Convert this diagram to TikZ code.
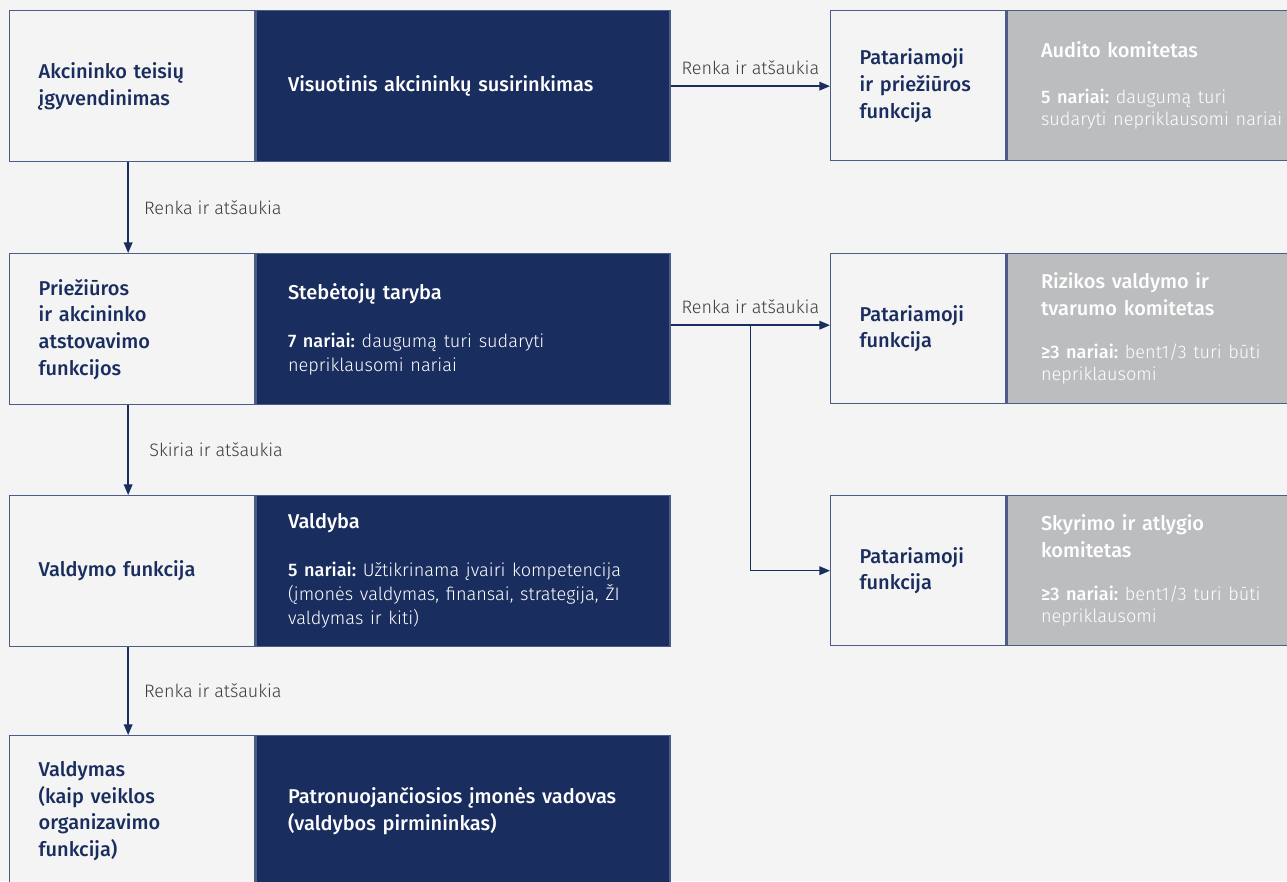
\documentclass[tikz,border=0pt]{standalone}
\usepackage{fontspec}
\setmainfont{Fira Sans}
\newfontfamily\medfont{Fira Sans Medium}
\newfontfamily\litefont{Fira Sans Light}
\usetikzlibrary{positioning,arrows.meta,calc}
\frenchspacing

\definecolor{pagebg}{HTML}{F3F4F3}
\definecolor{navy}{HTML}{1A2D5F}
\definecolor{edgeblue}{HTML}{4D5C86}
\definecolor{commgrey}{HTML}{BCBDBF}
\definecolor{labelgrey}{HTML}{3C3C3C}

\newcommand{\headsz}{\fontsize{15}{20}\selectfont}
\newcommand{\bodyf}{\litefont\fontsize{13.6}{17.5}\selectfont}
\newcommand{\textmed}[1]{{\medfont #1}}

\tikzset{
  funcbox/.style={draw=edgeblue, line width=1pt, fill=pagebg, text=navy,
    anchor=north west, minimum width=183.75pt, minimum height=113.25pt,
    inner xsep=21.75pt, inner ysep=0pt, text width=140.25pt, align=left,
    font=\medfont\headsz},
  organbox/.style={draw=edgeblue, line width=1pt, fill=navy, text=white,
    minimum width=310.5pt, minimum height=113.25pt,
    inner xsep=24pt, inner ysep=0pt, text width=262.5pt, align=left,
    font=\medfont\headsz},
  advbox/.style={draw=edgeblue, line width=1pt, fill=pagebg, text=navy,
    anchor=north west, minimum width=131.25pt, minimum height=112.5pt,
    inner xsep=21.75pt, inner ysep=0pt, text width=87.75pt, align=left,
    font=\medfont\headsz},
  commbox/.style={draw=edgeblue, line width=1pt, fill=commgrey, text=white,
    minimum width=213.75pt, minimum height=112.5pt,
    inner xsep=25.5pt, inner ysep=0pt, text width=195pt, align=left,
    font=\medfont\headsz},
  conn/.style={draw=navy, line width=1.1pt, -{Triangle[length=8pt,width=6.5pt]}},
  edgelabel/.style={text=labelgrey, font=\litefont\fontsize{13.5}{16}\selectfont}
}

\begin{document}
\begin{tikzpicture}[x=0.75pt,y=-0.75pt]
  \useasboundingbox (0,0) rectangle (1287,881);
  \fill[pagebg] (0,0) rectangle (1287,881);

  % left column: functions and bodies
  \node[funcbox] (akc) at (9,10) {Akcininko teisių\\ įgyvendinimas};
  \node[organbox, right=0pt of akc] (vis) {Visuotinis akcininkų susirinkimas};

  \node[funcbox] (prz) at (9,253) {Priežiūros\\ ir akcininko\\ atstovavimo\\ funkcijos};
  \node[organbox, right=0pt of prz] (steb) {Stebėtojų taryba\\[16pt]
    {\bodyf\textmed{7 nariai:} daugumą turi sudaryti}\\[-2pt]
    {\bodyf nepriklausomi nariai}};

  \node[funcbox] (vfn) at (9,495) {Valdymo funkcija};
  \node[organbox, right=0pt of vfn] (vald) {Valdyba\\[16pt]
    {\bodyf\textmed{5 nariai:} Užtikrinama įvairi kompetencija}\\[-2pt]
    {\bodyf (įmonės valdymas, finansai, strategija, ŽI}\\[-2pt]
    {\bodyf valdymas ir kiti)}};

  \node[funcbox] (org) at (9,735) {Valdymas\\ (kaip veiklos\\ organizavimo\\ funkcija)};
  \node[organbox, right=0pt of org] (vad) {Patronuojančiosios įmonės vadovas\\ (valdybos pirmininkas)};

  % right column: committees
  \node[advbox] (audf) at (830,10) {Patariamoji\\ ir priežiūros\\ funkcija};
  \node[commbox, right=0pt of audf] (aud) {Audito komitetas\\[14pt]
    {\bodyf\textmed{5 nariai:} daugumą turi}\\[-3pt]
    {\bodyf sudaryti nepriklausomi nariai}};

  \node[advbox] (rizf) at (830,253) {Patariamoji\\ funkcija};
  \node[commbox, right=0pt of rizf] (riz) {Rizikos valdymo ir\\ tvarumo komitetas\\[12pt]
    {\bodyf\textmed{≥3 nariai:} bent1/3 turi būti}\\[-3pt]
    {\bodyf nepriklausomi}};

  \node[advbox] (skyf) at (830,495) {Patariamoji\\ funkcija};
  \node[commbox, right=0pt of skyf] (sky) {Skyrimo ir atlygio\\ komitetas\\[12pt]
    {\bodyf\textmed{≥3 nariai:} bent1/3 turi būti}\\[-3pt]
    {\bodyf nepriklausomi}};

  % connectors
  \draw[conn] ([xshift=-3pt]akc.south) -- node[edgelabel, midway, right=8pt] {Renka ir atšaukia} ([xshift=-3pt]prz.north);
  \draw[conn] ([xshift=-3pt]prz.south) -- node[edgelabel, midway, right=12pt] {Skiria ir atšaukia} ([xshift=-3pt]vfn.north);
  \draw[conn] ([xshift=-3pt]vfn.south) -- node[edgelabel, midway, right=8pt] {Renka ir atšaukia} ([xshift=-3pt]org.north);

  \draw[conn] (vis.east) -- node[edgelabel, midway, above=5pt] {Renka ir atšaukia} (vis.east -| audf.west);
  \draw[conn] ([yshift=3pt]steb.east) -- node[edgelabel, midway, above=5pt] {Renka ir atšaukia} ([yshift=3pt]steb.east -| rizf.west);
  \coordinate (fork) at ($([yshift=3pt]steb.east)!0.5!([yshift=3pt]steb.east -| rizf.west)$);
  \draw[conn] (fork) |- (skyf.west);
\end{tikzpicture}
\end{document}
